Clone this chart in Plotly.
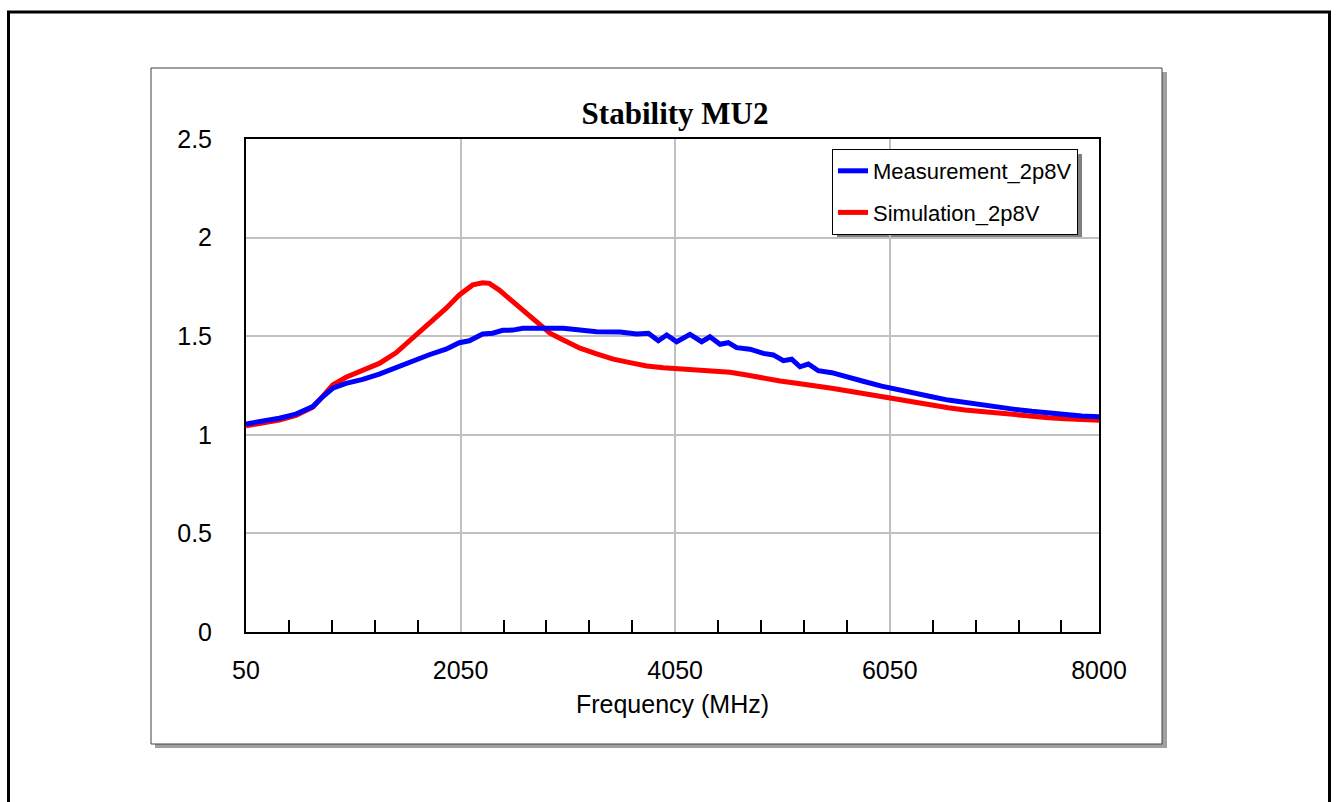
import plotly.graph_objects as go


# ---------------------------------------------------------------------------------------------
# data
# ---------------------------------------------------------------------------------------------

meas_freq = [50, 360, 516, 672, 765, 858, 982, 1138, 1292, 1448, 1604, 1758, 1914, 2038, 2131,
             2256, 2349, 2442, 2536, 2629, 2753, 3007, 3163, 3318, 3536, 3691, 3800, 3893, 3971,
             4064, 4188, 4297, 4374, 4468, 4545, 4623, 4747, 4872, 4965, 5058, 5136, 5213, 5291,
             5384, 5509, 5664, 5819, 5974, 6129, 6285, 6441, 6595, 6751, 6907, 7061, 7217, 7373,
             7528, 7683, 7839, 8000]
meas_mu = [1.055, 1.084, 1.105, 1.143, 1.193, 1.236, 1.261, 1.281, 1.308, 1.342, 1.376, 1.406,
           1.434, 1.467, 1.477, 1.511, 1.515, 1.530, 1.531, 1.540, 1.540, 1.540, 1.531, 1.523,
           1.521, 1.511, 1.515, 1.477, 1.506, 1.472, 1.509, 1.472, 1.497, 1.459, 1.467, 1.442,
           1.434, 1.413, 1.405, 1.376, 1.383, 1.345, 1.359, 1.325, 1.315, 1.295, 1.269, 1.247,
           1.227, 1.210, 1.193, 1.176, 1.163, 1.150, 1.137, 1.129, 1.119, 1.109, 1.102, 1.095,
           1.092]

sim_freq = [50, 360, 516, 672, 765, 858, 982, 1138, 1292, 1448, 1604, 1758, 1914, 2038, 2163,
            2256, 2318, 2411, 2536, 2660, 2753, 2790, 2883, 3007, 3163, 3318, 3473, 3629, 3785,
            3940, 4095, 4251, 4405, 4561, 4717, 4872, 5027, 5182, 5384, 5509, 5664, 5819, 5974,
            6129, 6285, 6441, 6595, 6751, 6907, 7061, 7217, 7373, 7528, 7683, 7839, 8000]
sim_mu = [1.046, 1.075, 1.098, 1.140, 1.195, 1.253, 1.292, 1.324, 1.362, 1.416, 1.489, 1.565,
          1.641, 1.709, 1.760, 1.771, 1.768, 1.734, 1.675, 1.616, 1.568, 1.557, 1.515, 1.481,
          1.439, 1.410, 1.384, 1.366, 1.349, 1.340, 1.334, 1.332, 1.325, 1.317, 1.303, 1.286,
          1.273, 1.261, 1.248, 1.236, 1.222, 1.207, 1.193, 1.176, 1.163, 1.150, 1.137, 1.126,
          1.117, 1.109, 1.100, 1.094, 1.087, 1.082, 1.077, 1.074]

x_labels = [50, 2050, 4050, 6050, 8000]
x_minor = [450, 850, 1250, 1650, 2450, 2850, 3250, 3650, 4450, 4850, 5250, 5650,
           6450, 6850, 7250, 7650]
y_labels = [0, 0.5, 1, 1.5, 2, 2.5]


# ---------------------------------------------------------------------------------------------
# page / plot geometry (pixels)
# ---------------------------------------------------------------------------------------------
W, H = 1336, 802
PL, PR, PT, PB = 246, 1099, 139, 632


def xp(px):
    return (px - PL) / (PR - PL)


def yp(py):
    return (PB - py) / (PB - PT)


def box(x0, y0, x1, y1, **kw):
    return dict(type="rect", xref="paper", yref="paper", layer="below",
                x0=xp(x0), x1=xp(x1), y0=yp(y1), y1=yp(y0), **kw)


fig = go.Figure()
fig.add_trace(go.Scatter(x=sim_freq, y=sim_mu, mode="lines", name="Simulation_2p8V",
                         legendgroup="sim", legendrank=2,
                         line=dict(color="#ff0000", width=5)))
fig.add_trace(go.Scatter(x=meas_freq, y=meas_mu, mode="lines", name="Measurement_2p8V",
                         legendgroup="meas", legendrank=1,
                         line=dict(color="#0000ff", width=5)))

shapes = [
    # outer page frame
    box(8.5, 12, 1329.5, 830, line=dict(color="black", width=3), fillcolor="white"),
    # chart area shadow + frame
    box(155, 72, 1167, 748, line=dict(width=0), fillcolor="#a0a0a0"),
    box(151, 68, 1162, 744, line=dict(color="#404040", width=1), fillcolor="white"),
    # legend shadow
    box(837, 154, 1082, 239, line=dict(width=0), fillcolor="#808080"),
]

fig.update_layout(
    width=W, height=H,
    margin=dict(l=PL, r=W - PR, t=PT, b=H - PB, pad=0),
    paper_bgcolor="white",
    plot_bgcolor="rgba(0,0,0,0)",
    font=dict(family="Liberation Sans, Arial", size=25, color="black"),
    title=dict(text="<b>Stability MU2</b>", x=xp(677), xanchor="center",
               y=1 - 113 / H, yanchor="middle",
               font=dict(family="Liberation Serif, Times New Roman", size=31, color="black")),
    showlegend=True,
    legend=dict(x=xp(832), xanchor="left", y=yp(149), yanchor="top",
                traceorder="grouped", itemwidth=30, tracegroupgap=10,
                bgcolor="white", bordercolor="black", borderwidth=1,
                font=dict(size=22)),
    shapes=shapes,
)

fig.update_xaxes(
    range=[50, 8000], tickmode="array", tickvals=x_labels, ticks="",
    ticklabelstandoff=15,
    showgrid=True, gridcolor="#c0c0c0", gridwidth=1.5,
    showline=True, mirror=True, linecolor="black", linewidth=2,
    zeroline=False,
    minor=dict(tickmode="array", tickvals=x_minor, ticks="inside", ticklen=12,
               tickwidth=1.5, tickcolor="black", showgrid=False),
    title=dict(text="Frequency (MHz)", standoff=12, font=dict(size=25)),
)
fig.update_yaxes(
    range=[0, 2.5], tickmode="array", tickvals=y_labels,
    ticktext=[f"{v:g}" for v in y_labels], ticks="",
    ticklabelstandoff=27,
    showgrid=True, gridcolor="#c0c0c0", gridwidth=1.5,
    showline=True, mirror=True, linecolor="black", linewidth=2,
    zeroline=False,
)

fig.write_html("out.html", config={"displayModeBar": False},
               post_script="document.body.style.margin='0';document.body.style.overflow='hidden';")
